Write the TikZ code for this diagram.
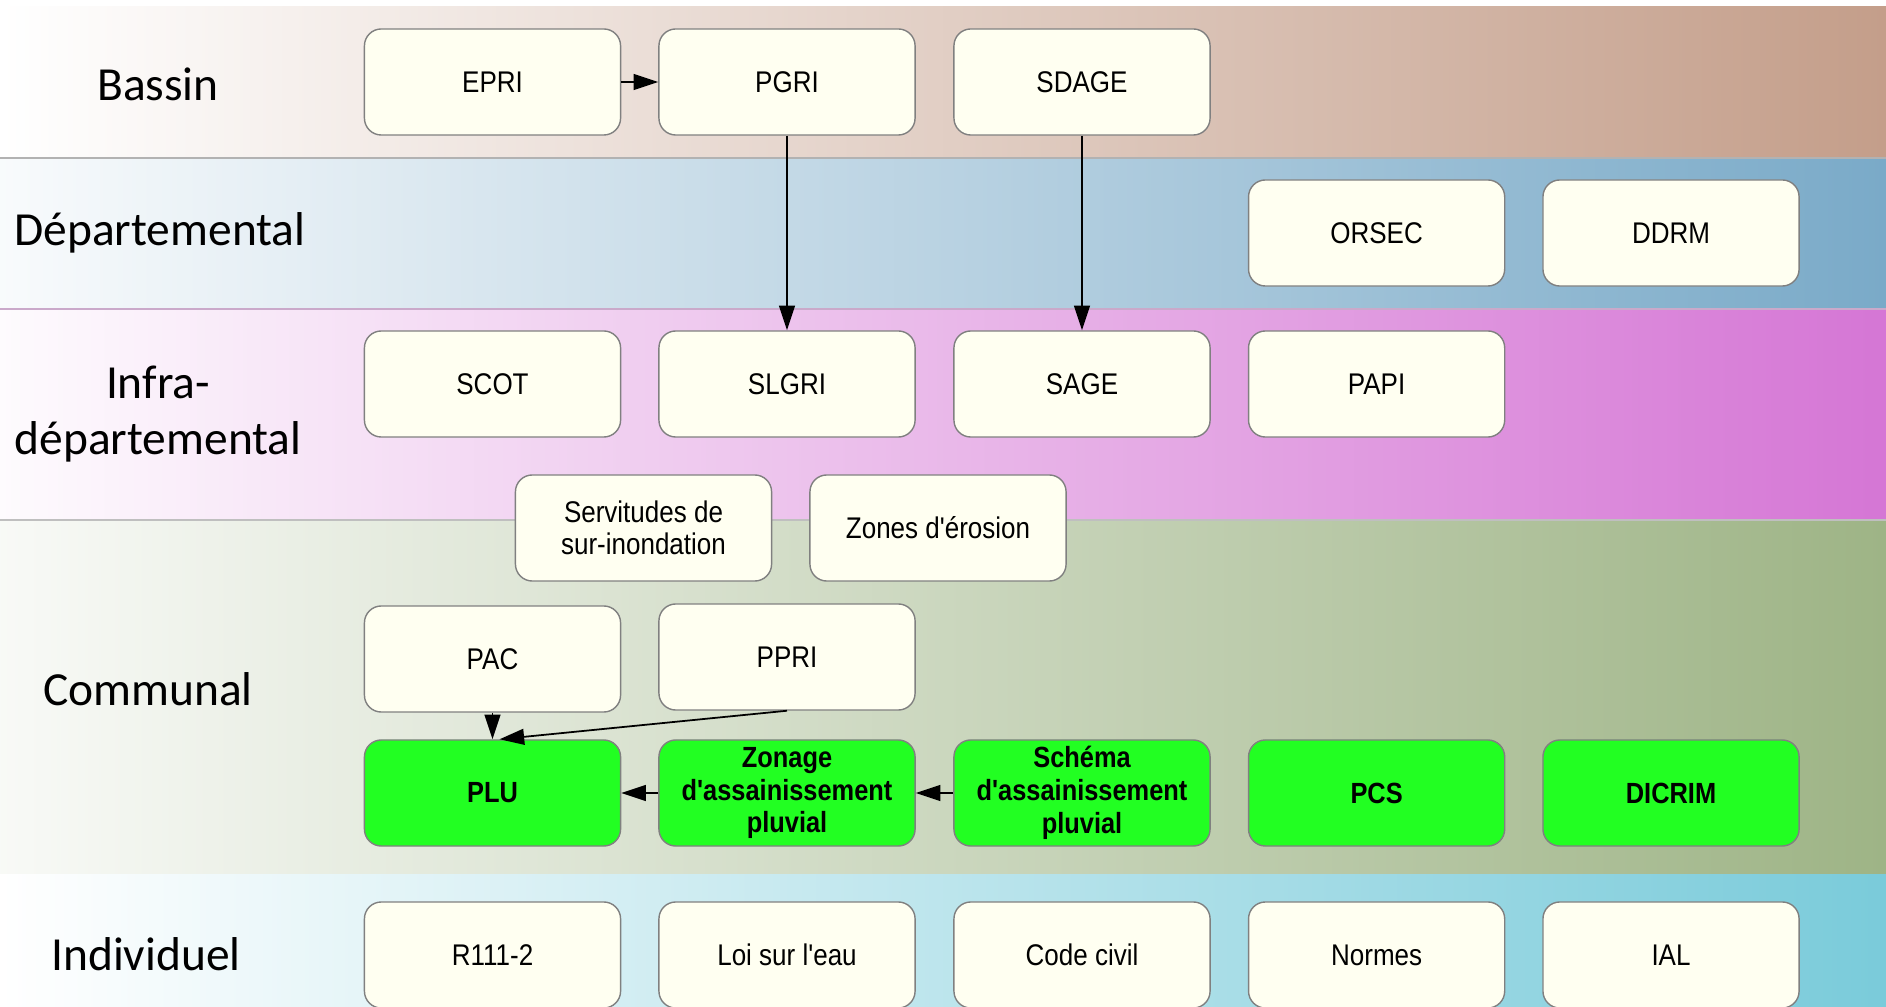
\documentclass[tikz,border=0pt]{standalone}
\usepackage{fontspec}
\setmainfont{Carlito}
\newfontfamily\boxfont[FakeStretch=0.87]{Liberation Sans}
\usetikzlibrary{arrows.meta}
\definecolor{bassinC}{RGB}{196,158,138}
\definecolor{deptC}{RGB}{122,170,200}
\definecolor{infraC}{RGB}{213,118,213}
\definecolor{communC}{RGB}{158,180,134}
\definecolor{indivC}{RGB}{122,203,218}
\definecolor{ivory}{RGB}{255,255,241}
\definecolor{vgreen}{RGB}{34,255,34}
\definecolor{boxborder}{RGB}{128,128,128}
\tikzset{
  plainbox/.style={draw=boxborder, fill=ivory, rounded corners=4.8pt,
    minimum width=2.56cm, minimum height=1.06cm, inner sep=0pt, align=center,
    line width=0.4pt, font=\boxfont\fontsize{8.5}{9}\selectfont},
  greenbox/.style={plainbox, fill=vgreen, font=\boxfont\bfseries\fontsize{8.3}{9.3}\selectfont},
  levellabel/.style={align=center, inner sep=0pt, font=\fontsize{13.5}{15.7}\selectfont},
  conn/.style={-{Triangle[length=7pt,width=4.5pt]}, line width=0.5pt, black},
  bandline/.style={line width=0.3pt}
}
\begin{document}
\begin{tikzpicture}[x=0.01cm,y=-0.01cm]
\useasboundingbox (0,0) rectangle (1886,1007);
\fill[white] (0,0) rectangle (1886,1007);
% bands
\shade[left color=white, right color=bassinC] (0,7) rectangle (1886,158);
\shade[left color=white!95!deptC, right color=deptC] (0,158) rectangle (1886,309);
\shade[left color=white!97!infraC, right color=infraC] (0,309) rectangle (1886,520);
\shade[left color=white!93!communC, right color=communC] (0,520) rectangle (1886,874);
\shade[left color=white, right color=indivC] (0,874) rectangle (1886,1007);
\draw[bandline, gray!60] (0,158) -- (1886,158);
\draw[bandline, infraC!70!black!50] (0,309) -- (1886,309);
\draw[bandline, gray!50] (0,520) -- (1886,520);
% level labels
\node[levellabel] (lbassin) at (158,84) {Bassin};
\node[levellabel] (ldept) at (160,233) {Départemental};
\node[levellabel] (linfra) at (158,414) {Infra-\\départemental};
\node[levellabel] (lcomm) at (148,689) {Communal};
\node[levellabel] (lindiv) at (146,954) {Individuel};
% Bassin
\node[plainbox] (epri) at (492.5,82) {EPRI};
\node[plainbox] (pgri) at (787,82) {PGRI};
\node[plainbox] (sdage) at (1082,82) {SDAGE};
% Departemental
\node[plainbox] (orsec) at (1376.6,233) {ORSEC};
\node[plainbox] (ddrm) at (1671,233) {DDRM};
% Infra
\node[plainbox] (scot) at (492.5,384) {SCOT};
\node[plainbox] (slgri) at (787,384) {SLGRI};
\node[plainbox] (sage) at (1082,384) {SAGE};
\node[plainbox] (papi) at (1376.6,384) {PAPI};
\node[plainbox] (servit) at (643.5,528) {Servitudes de\\sur-inondation};
\node[plainbox] (erosion) at (938,528) {Zones d'érosion};
% Communal
\node[plainbox] (pac) at (492.5,659) {PAC};
\node[plainbox] (ppri) at (787,657) {PPRI};
\node[greenbox] (plu) at (492.5,793) {PLU};
\node[greenbox] (zonage) at (787,793) {Zonage\\d'assainissement\\pluvial};
\node[greenbox] (schema) at (1082,793) {Schéma\\d'assainissement\\pluvial};
\node[greenbox] (pcs) at (1376.6,793) {PCS};
\node[greenbox] (dicrim) at (1671,793) {DICRIM};
% Individuel
\node[plainbox] (r111) at (492.5,955) {R111-2};
\node[plainbox] (loi) at (787,955) {Loi sur l'eau};
\node[plainbox] (code) at (1082,955) {Code civil};
\node[plainbox] (normes) at (1376.6,955) {Normes};
\node[plainbox] (ial) at (1671,955) {IAL};
% connectors
\draw[conn] (epri) -- (pgri);
\draw[conn] (pgri) -- (slgri);
\draw[conn] (sdage) -- (sage);
\draw[conn] (pac) -- (plu);
\draw[conn] (ppri.south) -- ([xshift=2pt]plu.north);
\draw[conn] (zonage) -- (plu);
\draw[conn] (schema) -- (zonage);
\end{tikzpicture}
\end{document}
